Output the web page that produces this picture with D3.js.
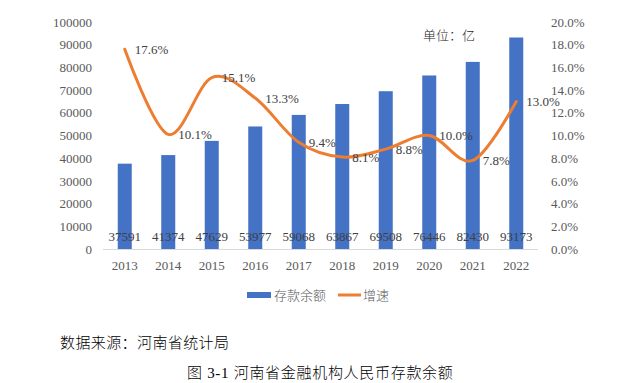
<!DOCTYPE html>
<html><head><meta charset="utf-8">
<script src="https://cdn.jsdelivr.net/npm/d3@7"></script>
<style>
html,body{margin:0;padding:0;background:#fff;}
svg{display:block;}
</style></head>
<body>
<svg id="chart" width="620" height="383"></svg>
<script>
const years = ["2013","2014","2015","2016","2017","2018","2019","2020","2021","2022"];
const deposits = [37591,41374,47629,53977,59068,63867,69508,76446,82430,93173];
const growth = [17.6,10.1,15.1,13.3,9.4,8.1,8.8,10.0,7.8,13.0];
const leftTicks = [0,10000,20000,30000,40000,50000,60000,70000,80000,90000,100000];
const rightTicks = [0,2,4,6,8,10,12,14,16,18,20];
const seriesNames = ["存款余额","增速"];
const unitLabel = "单位：亿";
const sourceLabel = "数据来源：河南省统计局";
const captionLabel = "图 3-1  河南省金融机构人民币存款余额";

(function(){
const svg = d3.select("#chart");
const serif = "'Liberation Serif','Times New Roman',serif";
const cjk = "'Liberation Serif','Noto Sans CJK SC','Noto Sans',serif";
const blue = "#4472C4", orange = "#ED7D31";

const pL = 103, pR = 538, pT = 22, pB = 249;
const x = d3.scaleBand().domain(years).range([pL, pR]).paddingInner(0.68).paddingOuter(0.34);
const y = d3.scaleLinear().domain([0,100000]).range([pB, pT]);
const y2 = d3.scaleLinear().domain([0,20]).range([pB, pT]);
const cx = d => x(d) + x.bandwidth()/2;

svg.append("g").selectAll("rect").data(years).join("rect")
  .attr("x", (d)=>cx(d)-7).attr("width", 14)
  .attr("y", (d,i)=>y(deposits[i])).attr("height", (d,i)=>y(0)-y(deposits[i]))
  .attr("fill", blue);

svg.append("line").attr("x1", pL).attr("x2", pR).attr("y1", pB+0.5).attr("y2", pB+0.5)
  .attr("stroke", "#d9d9d9").attr("stroke-width", 1);

const la = svg.append("g").attr("transform", `translate(${pL},0)`)
  .call(d3.axisLeft(y).tickValues(leftTicks).tickSize(0).tickPadding(11).tickFormat(d3.format("d")));
la.select(".domain").remove();
la.selectAll("text").attr("font-family", serif).attr("font-size", 13).attr("fill", "#595959");

const ra = svg.append("g").attr("transform", `translate(${pR},0)`)
  .call(d3.axisRight(y2).tickValues(rightTicks).tickSize(0).tickPadding(13).tickFormat(d=>d.toFixed(1)+"%"));
ra.select(".domain").remove();
ra.selectAll("text").attr("font-family", serif).attr("font-size", 13).attr("fill", "#595959");

const ba = svg.append("g").attr("transform", `translate(0,${pB})`)
  .call(d3.axisBottom(x).tickSize(0).tickPadding(12));
ba.select(".domain").remove();
ba.selectAll("text").attr("font-family", serif).attr("font-size", 13).attr("fill", "#595959");

const line = d3.line().x((d,i)=>cx(years[i])).y(d=>y2(d)).curve(d3.curveCardinal.tension(0));
svg.append("path").datum(growth).attr("d", line).attr("fill","none")
  .attr("stroke", orange).attr("stroke-width", 3).attr("stroke-linecap","round");

svg.append("g").selectAll("text").data(deposits).join("text")
  .attr("x", (d,i)=>cx(years[i])).attr("y", 241).attr("text-anchor","middle")
  .attr("font-family", serif).attr("font-size", 13).attr("fill", "#404040")
  .text(d=>d);

svg.append("g").selectAll("text").data(growth).join("text")
  .attr("x", (d,i)=>cx(years[i])+10).attr("y", d=>y2(d)).attr("dy","0.35em")
  .attr("font-family", serif).attr("font-size", 13).attr("fill", "#404040")
  .text(d=>d.toFixed(1)+"%");

svg.append("text").attr("x", 423).attr("y", 40).attr("font-family", cjk).attr("font-size", 13)
  .attr("font-weight", 300).attr("fill", "#262626").text(unitLabel);

const lg = svg.append("g");
lg.append("rect").attr("x", 247).attr("y", 292).attr("width", 24).attr("height", 6).attr("fill", blue);
lg.append("text").attr("x", 274).attr("y", 299.5).attr("font-family", cjk).attr("font-size", 13)
  .attr("font-weight", 300).attr("fill", "#595959").text(seriesNames[0]);
lg.append("line").attr("x1", 338).attr("x2", 361).attr("y1", 295).attr("y2", 295)
  .attr("stroke", orange).attr("stroke-width", 3);
lg.append("text").attr("x", 363).attr("y", 299.5).attr("font-family", cjk).attr("font-size", 13)
  .attr("font-weight", 300).attr("fill", "#595959").text(seriesNames[1]);

svg.append("text").attr("x", 60).attr("y", 348).attr("font-family", cjk).attr("font-size", 15)
  .attr("font-weight", 300).attr("letter-spacing", 0.4).attr("fill", "#000").text(sourceLabel);
svg.append("text").attr("x", 187).attr("y", 378).attr("font-family", cjk).attr("font-size", 15)
  .attr("font-weight", 300).attr("letter-spacing", 0.7).attr("fill", "#000").text(captionLabel);
})();
</script>
</body></html>
